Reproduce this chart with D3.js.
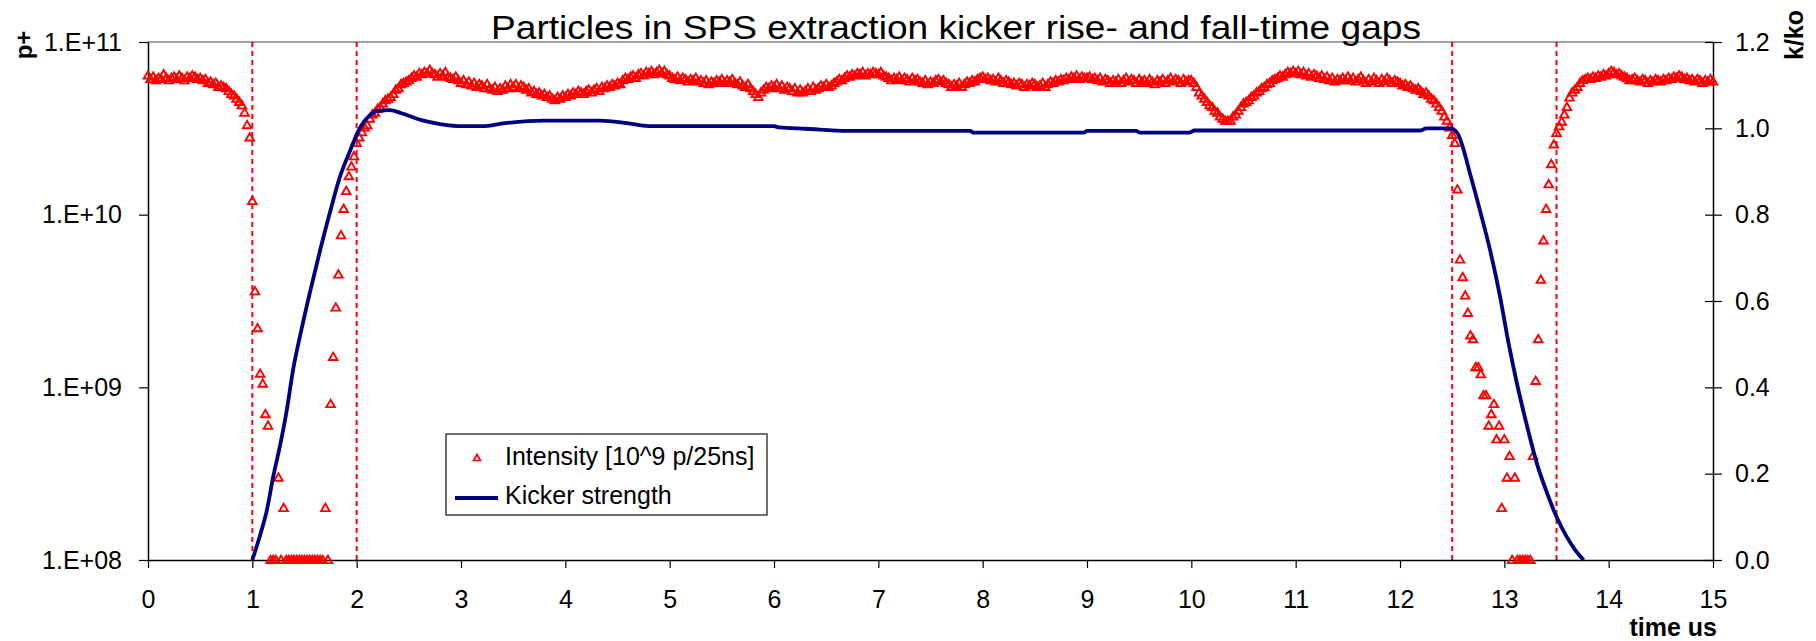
<!DOCTYPE html>
<html>
<head>
<meta charset="utf-8">
<script src="https://cdn.jsdelivr.net/npm/d3@7"></script>
<style>
  body { margin: 0; background: #fff; }
  svg { display: block; }
  text { font-family: "Liberation Sans", Arial, sans-serif; }
</style>
</head>
<body>
<svg id="chart" width="1816" height="641"></svg>
<script>
// tick values
var xTicks = [0, 1, 2, 3, 4, 5, 6, 7, 8, 9, 10, 11, 12, 13, 14, 15];
var leftTicks = [1e8, 1e9, 1e10, 1e11];
var rightTicks = [0, 0.2, 0.4, 0.6, 0.8, 1.0, 1.2];

// kicker rise / fall gap edges (time us)
var gapEdges = [1, 2, 12.5, 13.5];

// intensity per bunch, in 10^9 p, one value every 25 ns starting at t = 0
var bunchSpacing = 0.025;
var intensity = [
  // 0 - 1 us
  64, 61, 63, 60, 62, 61, 65, 62, 60, 62, 63, 61, 64, 62, 60, 63, 62, 64, 63, 61,
  62, 60, 61, 58, 59, 57, 58, 55, 56, 55, 54, 52, 50, 49, 47, 45, 43, 39, 33, 28,
  // 1 - 2 us (rise gap)
  12, 3.6, 2.2, 1.2, 1.05, 0.7, 0.6, 0.1, 0.1, 0.1, 0.3, 0.1, 0.2, 0.1, 0.1, 0.1, 0.1, 0.1, 0.1, 0.1,
  0.1, 0.1, 0.1, 0.1, 0.1, 0.1, 0.1, 0.1, 0.2, 0.1, 0.8, 1.5, 2.9, 4.5, 7.6, 10.8, 13.7, 16.7, 19, 21.8,
  // 2 - 3 us
  26, 28, 30, 32, 33, 36, 38, 39, 41, 42, 44, 46, 47, 48, 50, 53, 54, 57, 58, 59,
  60, 62, 64, 63, 66, 65, 67, 66, 69, 66, 65, 63, 66, 64, 67, 63, 62, 61, 63, 60,
  // 3 - 4 us
  58, 60, 57, 59, 56, 58, 55, 57, 56, 54, 57, 54, 53, 55, 52, 54, 53, 56, 54, 57,
  55, 57, 54, 56, 55, 53, 54, 51, 52, 50, 51, 49, 50, 48, 49, 47, 46, 48, 47, 49,
  // 4 - 5 us
  48, 50, 49, 51, 50, 52, 51, 50, 52, 53, 51, 53, 54, 52, 55, 54, 56, 55, 57, 56,
  58, 57, 60, 62, 61, 63, 64, 62, 65, 66, 64, 67, 66, 68, 65, 67, 69, 66, 68, 65,
  // 5 - 6 us
  64, 62, 61, 63, 60, 62, 61, 59, 61, 60, 62, 59, 60, 58, 60, 57, 59, 58, 60, 59,
  61, 58, 60, 59, 61, 58, 57, 59, 56, 55, 57, 54, 52, 50, 48, 51, 53, 55, 54, 56,
  // 6 - 7 us
  55, 57, 54, 56, 53, 55, 54, 52, 54, 51, 53, 51, 52, 54, 52, 55, 53, 54, 56, 55,
  57, 55, 56, 58, 59, 61, 60, 62, 64, 63, 65, 64, 66, 65, 67, 64, 66, 65, 67, 66,
  // 7 - 8 us
  65, 67, 64, 63, 62, 60, 62, 61, 63, 60, 62, 61, 59, 62, 60, 61, 59, 58, 60, 57,
  59, 58, 60, 61, 59, 60, 58, 57, 55, 57, 56, 58, 55, 57, 59, 58, 60, 59, 61, 62,
  // 8 - 9 us
  63, 61, 62, 60, 61, 59, 62, 60, 58, 60, 59, 57, 58, 56, 58, 57, 55, 57, 56, 58,
  57, 55, 56, 58, 55, 57, 59, 58, 60, 59, 61, 60, 62, 61, 63, 62, 64, 61, 63, 62,
  // 9 - 10 us
  62, 63, 61, 62, 60, 62, 59, 61, 60, 58, 60, 59, 61, 58, 60, 62, 59, 61, 60, 58,
  61, 59, 60, 58, 61, 59, 57, 60, 59, 61, 58, 60, 62, 59, 61, 60, 58, 61, 59, 60,
  // 10 - 11 us
  60, 58, 55, 51, 49, 47, 45, 43, 42, 40, 39, 37, 36, 35, 35, 35, 37, 38, 40, 42,
  44, 45, 46, 48, 49, 51, 52, 54, 55, 57, 58, 60, 61, 62, 64, 63, 65, 67, 66, 68,
  // 11 - 12 us
  66, 68, 65, 67, 64, 66, 63, 65, 64, 62, 64, 61, 63, 60, 62, 59, 61, 60, 62, 60,
  63, 60, 62, 59, 61, 63, 60, 58, 61, 59, 62, 60, 58, 61, 59, 62, 60, 58, 60, 59,
  // 12 - 13 us (fall gap)
  58, 56, 57, 55, 56, 54, 53, 54, 52, 50, 51, 49, 47, 46, 44, 42, 40, 37, 35, 32,
  29, 26, 14, 5.5, 4.35, 3.4, 2.7, 2.0, 1.9, 1.31, 1.31, 1.19, 0.9, 0.9, 0.6, 0.7, 0.8, 0.5, 0.6, 0.2,
  // 13 - 14 us
  0.5, 0.3, 0.4, 0.1, 0.3, 0.1, 0.1, 0.1, 0.1, 0.1, 0.1, 0.4, 1.09, 1.9, 4.2, 7.1, 10.8, 15, 19.6, 25.5,
  29.7, 32.5, 34.6, 38, 42, 47.7, 51, 53, 55, 58, 60, 61, 62, 61, 63, 62, 64, 63, 65, 64,
  // 14 - 15 us
  66, 68, 67, 65, 66, 64, 63, 62, 60, 61, 62, 60, 59, 61, 60, 58, 60, 59, 61, 60,
  59, 61, 60, 62, 61, 63, 62, 64, 63, 61, 62, 60, 61, 59, 61, 60, 58, 60, 59, 61,
  59
];

// kicker strength k/ko
var kickerTime = [1.0, 1.07, 1.14, 1.20, 1.27, 1.33, 1.39, 1.47, 1.55, 1.65, 1.75, 1.84, 1.94, 2.02,
  2.13, 2.19, 2.32, 2.43, 2.62, 2.80, 3.02, 3.20, 3.42, 3.79, 4.33, 4.59, 4.80, 6.00, 6.05,
  6.30, 6.71, 7.88, 7.91, 8.97, 9.00, 9.47, 9.51, 9.98, 10.03, 12.20, 12.25, 12.48, 12.55, 12.61,
  12.67, 12.74, 12.79, 12.87, 12.96, 13.04, 13.12, 13.22, 13.31, 13.41, 13.50, 13.60, 13.68, 13.76];
var kickerStrength = [0, 0.054, 0.116, 0.193, 0.27, 0.347, 0.44, 0.533, 0.618, 0.718, 0.811, 0.888, 0.95, 0.996,
  1.031, 1.040, 1.042, 1.035, 1.019, 1.010, 1.005, 1.005, 1.012, 1.018, 1.018, 1.012, 1.005, 1.005, 1.002,
  0.999, 0.994, 0.994, 0.990, 0.990, 0.994, 0.994, 0.990, 0.990, 0.995, 0.995, 1.0, 1.0, 0.989, 0.950,
  0.896, 0.834, 0.788, 0.711, 0.609, 0.503, 0.41, 0.308, 0.225, 0.155, 0.10, 0.053, 0.023, 0];

var svg = d3.select("#chart");

var margin = { top: 42, right: 103, bottom: 81, left: 148 };
var width = 1816, height = 641;
var plotRight = width - margin.right;
var plotBottom = height - margin.bottom;

var xScale = d3.scaleLinear().domain([0, 15]).range([margin.left, plotRight]);
var yLeft = d3.scaleLog().domain([1e8, 1e11]).range([plotBottom, margin.top]);
var yRight = d3.scaleLinear().domain([0, 1.2]).range([plotBottom, margin.top]);

// top frame line
svg.append("line")
    .attr("x1", margin.left).attr("x2", plotRight)
    .attr("y1", margin.top).attr("y2", margin.top)
    .attr("stroke", "#808080").attr("stroke-width", 1.5);

// gap edge markers
svg.append("g").selectAll("line")
    .data(gapEdges)
    .join("line")
    .attr("x1", function(d) { return xScale(d); })
    .attr("x2", function(d) { return xScale(d); })
    .attr("y1", margin.top)
    .attr("y2", plotBottom)
    .attr("stroke", "#ff0000")
    .attr("stroke-width", 2)
    .attr("stroke-dasharray", "5,4");

// axes
var xAxis = d3.axisBottom(xScale).tickValues(xTicks).tickSizeInner(8).tickSizeOuter(0).tickPadding(22)
    .tickFormat(d3.format("d"));
var xGroup = svg.append("g").attr("transform", "translate(0," + plotBottom + ")").call(xAxis);

var leftAxis = d3.axisLeft(yLeft).tickValues(leftTicks).tickSizeInner(9).tickSizeOuter(0).tickPadding(17)
    .tickFormat(function(d) { return "1.E+" + d3.format("02d")(Math.round(Math.log10(d))); });
var leftGroup = svg.append("g").attr("transform", "translate(" + margin.left + ",0)").call(leftAxis);

var rightAxis = d3.axisRight(yRight).tickValues(rightTicks).tickSizeInner(9).tickSizeOuter(0).tickPadding(13)
    .tickFormat(d3.format(".1f"));
var rightGroup = svg.append("g").attr("transform", "translate(" + plotRight + ",0)").call(rightAxis);
rightGroup.selectAll(".tick line").attr("x1", -8);

[xGroup, leftGroup, rightGroup].forEach(function(g) {
    g.select(".domain").attr("stroke", "#000").attr("stroke-width", 1.5);
    g.selectAll(".tick line").attr("stroke", "#000").attr("stroke-width", 1.2);
    g.selectAll(".tick text")
        .style("font-family", "'Liberation Sans', Arial, sans-serif")
        .style("font-size", "25px")
        .attr("fill", "#000");
});

// intensity markers
var triangle = "M0,-4.3L4.3,3.1L-4.3,3.1Z";
svg.append("g").selectAll("path")
    .data(intensity)
    .join("path")
    .attr("d", triangle)
    .attr("transform", function(d, i) {
        return "translate(" + xScale(i * bunchSpacing) + "," + yLeft(Math.max(d * 1e9, 1e8)) + ")";
    })
    .attr("fill", "none")
    .attr("stroke", "#ff0000")
    .attr("stroke-width", 1.9);

// kicker strength line
var kickerPoints = kickerTime.map(function(t, i) { return { t: t, k: kickerStrength[i] }; });
var kickerLine = d3.line()
    .x(function(d) { return xScale(d.t); })
    .y(function(d) { return yRight(d.k); })
    .curve(d3.curveMonotoneX);

svg.append("path")
    .attr("d", kickerLine(kickerPoints))
    .attr("fill", "none")
    .attr("stroke", "#000080")
    .attr("stroke-width", 3.8);

// title (reference glyphs are slightly stretched horizontally)
svg.append("text")
    .attr("x", 491)
    .attr("y", 39)
    .attr("textLength", 930)
    .attr("lengthAdjust", "spacingAndGlyphs")
    .style("font-size", "33px")
    .text("Particles in SPS extraction kicker rise- and fall-time gaps");

// axis titles
svg.append("text")
    .attr("transform", "translate(32,45) rotate(-90)")
    .style("font-size", "24px")
    .style("font-weight", "bold")
    .style("text-anchor", "middle")
    .text("p+");

svg.append("text")
    .attr("transform", "translate(1803,35) rotate(-90)")
    .style("font-size", "25px")
    .style("font-weight", "bold")
    .style("text-anchor", "middle")
    .text("k/ko");

svg.append("text")
    .attr("x", 1717)
    .attr("y", 636)
    .style("font-size", "25px")
    .style("font-weight", "bold")
    .style("text-anchor", "end")
    .text("time us");

// legend
var legend = svg.append("g");
legend.append("rect")
    .attr("x", 446).attr("y", 434)
    .attr("width", 321).attr("height", 81)
    .attr("fill", "#fff")
    .attr("stroke", "#222")
    .attr("stroke-width", 1.3);

legend.append("path")
    .attr("d", "M0,-3.5L3.5,2.5L-3.5,2.5Z")
    .attr("transform", "translate(477,458)")
    .attr("fill", "none")
    .attr("stroke", "#ff0000")
    .attr("stroke-width", 1.7);

legend.append("line")
    .attr("x1", 455).attr("x2", 498)
    .attr("y1", 498).attr("y2", 498)
    .attr("stroke", "#000080")
    .attr("stroke-width", 3.8);

legend.append("text")
    .attr("x", 505).attr("y", 465)
    .style("font-size", "25px")
    .text("Intensity [10^9 p/25ns]");

legend.append("text")
    .attr("x", 505).attr("y", 504)
    .style("font-size", "25px")
    .text("Kicker strength");
</script>
</body>
</html>
